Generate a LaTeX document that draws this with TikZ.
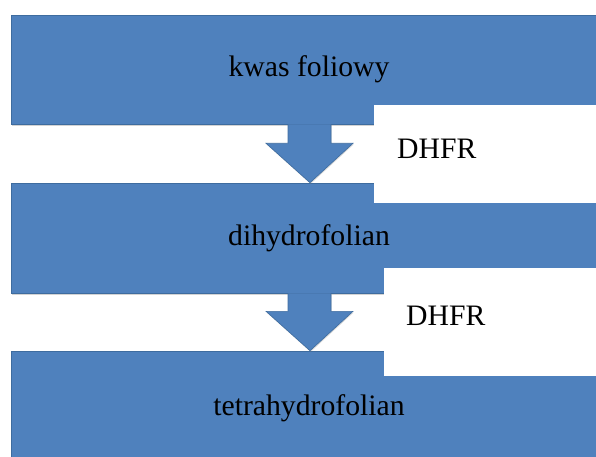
\documentclass[tikz,border=0pt]{standalone}
\usepackage{fontspec}
\setmainfont{Liberation Serif}
\usetikzlibrary{calc,shadows}
\definecolor{boxblue}{HTML}{4F81BD}
\definecolor{boxedge}{HTML}{3E6C9F}
\tikzset{
  stepbox/.style={draw=boxedge, line width=0.6pt, fill=boxblue, minimum width=596pt,
    inner sep=0pt, font=\fontsize{29.7}{32}\selectfont, text=black,
    drop shadow={shadow xshift=0.6pt, shadow yshift=-1.6pt, opacity=0.35}},
  flowarrow/.style={draw=boxedge, line width=0.6pt, fill=boxblue, line join=miter},
  whitebox/.style={fill=white, draw=none, inner sep=0pt, anchor=north west},
  enzyme/.style={font=\fontsize{29.7}{32}\selectfont, inner sep=0pt, anchor=base west},
}
\begin{document}
\begin{tikzpicture}[x=1pt,y=-1pt]
\useasboundingbox (0,0) rectangle (596,457);
% boxes
\node[stepbox, minimum height=109pt] (b1) at (309,69.5) {kwas foliowy};
\node[stepbox, minimum height=110pt] (b2) at (309,238) {dihydrofolian};
\node[stepbox, minimum height=114pt] (b3) at (309,408) {tetrahydrofolian};
% arrows
\draw[flowarrow, drop shadow={shadow xshift=0.6pt, shadow yshift=-1.2pt, opacity=0.3}]
  ($(b1.south)+(-21,0)$) -- ++(0,19) -- ++(-22,0) -- ($(b2.north)+(1,0)$)
  -- ($(b1.south)+(44,19)$) -- ++(-22,0) -- ($(b1.south)+(22,0)$);
\draw[flowarrow, drop shadow={shadow xshift=0.6pt, shadow yshift=-1.2pt, opacity=0.3}]
  ($(b2.south)+(-21,0)$) -- ++(0,18) -- ++(-22,0) -- ($(b3.north)+(1,0)$)
  -- ($(b2.south)+(44,18)$) -- ++(-22,0) -- ($(b2.south)+(22,0)$);
% white label boxes
\node[whitebox, minimum width=230pt, minimum height=98pt] (w1) at (374,105) {};
\node[whitebox, minimum width=220pt, minimum height=108pt] (w2) at (384,268) {};
\node[enzyme] (e1) at ($(w1.north west)+(23,54)$) {DHFR};
\node[enzyme] (e2) at ($(w2.north west)+(22,57)$) {DHFR};
\end{tikzpicture}
\end{document}
